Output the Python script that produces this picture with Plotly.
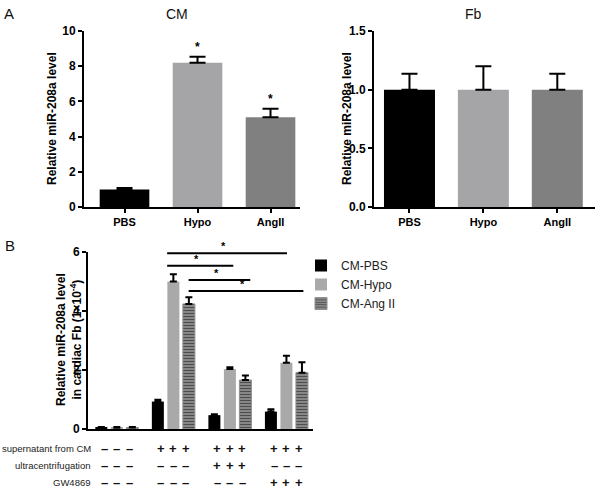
import plotly.graph_objects as go

# ---------------- data ----------------
a_categories = ["PBS", "Hypo", "AngII"]
a_colors = ["#000000", "#a5a5a7", "#808080"]
cm_values = [1.0, 8.2, 5.1]
cm_errors = [0.08, 0.33, 0.48]
fb_values = [1.0, 1.0, 1.0]
fb_errors = [0.135, 0.2, 0.135]
cm_stars = ["", "*", "*"]

b_groups = ["control", "supernatant", "supernatant+ultracentrifugation", "supernatant+GW4869"]
b_series = ["CM-PBS", "CM-Hypo", "CM-Ang II"]
cm_pbs = [0.05, 0.93, 0.47, 0.59]
cm_pbs_err = [0.015, 0.06, 0.03, 0.08]
cm_hypo = [0.04, 5.0, 2.03, 2.25]
cm_hypo_err = [0.03, 0.25, 0.06, 0.23]
cm_ang = [0.05, 4.24, 1.66, 1.91]
cm_ang_err = [0.015, 0.23, 0.15, 0.35]

# significance comparisons (x in category units, y level)
sig_x0 = [0.89, 0.89, 1.27, 1.27]
sig_x1 = [3.01, 2.06, 2.36, 3.30]
sig_y = [5.96, 5.53, 5.05, 4.68]

row_labels = ["supernatant from CM", "ultracentrifugation", "GW4869"]
supernatant = ["–", "+", "+", "+"]
ultracentrifugation = ["–", "–", "+", "–"]
gw4869 = ["–", "–", "–", "+"]

FONT = "Liberation Sans, Arial, sans-serif"
W, H = 600, 495


def px(x):
    return x / W


def py(y):
    return 1 - y / H


fig = go.Figure()

# ---------- Panel A left (CM) ----------
fig.add_trace(go.Bar(
    x=a_categories, y=cm_values, marker=dict(color=a_colors, line=dict(width=0)),
    width=0.68, showlegend=False, xaxis="x", yaxis="y",
    error_y=dict(type="data", array=cm_errors, arrayminus=[0] * 3, symmetric=False,
                 color="black", thickness=2, width=8),
))
# ---------- Panel A right (Fb) ----------
fig.add_trace(go.Bar(
    x=a_categories, y=fb_values, marker=dict(color=a_colors, line=dict(width=0)),
    width=0.69, showlegend=False, xaxis="x2", yaxis="y2",
    error_y=dict(type="data", array=fb_errors, arrayminus=[0] * 3, symmetric=False,
                 color="black", thickness=2, width=8),
))

# ---------- Panel B ----------
b_vals = [cm_pbs, cm_hypo, cm_ang]
b_errs = [cm_pbs_err, cm_hypo_err, cm_ang_err]
for i, name in enumerate(b_series):
    if i == 0:
        marker = dict(color="#000000", line=dict(width=0))
    elif i == 1:
        marker = dict(color="#a9a9a9", line=dict(width=0))
    else:
        marker = dict(color="#8e8e8e", line=dict(color="#8e8e8e", width=1),
                      pattern=dict(shape="-", fgcolor="#000000", bgcolor="#9a9a9a",
                                   size=3, solidity=0.5, fillmode="overlay"))
    fig.add_trace(go.Bar(
        x=b_groups, y=b_vals[i], name=name, marker=marker, xaxis="x3", yaxis="y3",
        error_y=dict(type="data", array=b_errs[i], arrayminus=[0] * 4, symmetric=False,
                     color="black", thickness=2, width=3.5),
    ))

BARGAP = 0.177
slot = (1 - BARGAP) / 3

axis_common = dict(showline=True, linecolor="black", linewidth=2, ticks="outside",
                   ticklen=4, tickwidth=2, tickcolor="black", showgrid=False, zeroline=False,
                   automargin=False,
                   tickfont=dict(family=FONT, size=11, color="black", weight="bold"))
axis_b_x = dict(axis_common)
axis_b_x["ticks"] = ""

ya_dom = [py(207), py(31)]
fig.update_layout(
    width=W, height=H, margin=dict(l=0, r=0, t=0, b=0, pad=0, autoexpand=False),
    paper_bgcolor="white", plot_bgcolor="white",
    barmode="group", bargap=BARGAP, bargroupgap=0.226,
    xaxis=dict(domain=[px(84), px(300)], range=[-0.555, 2.404], anchor="y", **axis_common),
    yaxis=dict(domain=ya_dom, range=[0, 10], tickvals=[0, 2, 4, 6, 8, 10], anchor="x",
               **axis_common),
    xaxis2=dict(domain=[px(374), px(595)], range=[-0.48, 2.51], anchor="y2", **axis_common),
    yaxis2=dict(domain=ya_dom, range=[0, 1.5], tickvals=[0, 0.5, 1.0, 1.5], tickformat=".1f",
                anchor="x2", **axis_common),
    xaxis3=dict(domain=[px(88), px(313)], range=[-0.51, 3.47], anchor="y3",
                showticklabels=False, **axis_b_x),
    yaxis3=dict(domain=[py(429), py(252)], range=[0, 6], tickvals=[0, 2, 4, 6], anchor="x3",
                **axis_common),
    legend=dict(x=px(301), y=py(251), xanchor="left", yanchor="top",
                font=dict(family=FONT, size=12, color="#222"), bgcolor="rgba(0,0,0,0)",
                itemclick=False),
)
fig.update_yaxes(tickfont=dict(size=12))

ann = []


def txt(text, x, y, size, bold=False, xanchor="center", textangle=0, color="#111"):
    f = dict(family=FONT, size=size, color=color)
    if bold:
        f["weight"] = "bold"
    return dict(text=text, x=px(x), y=py(y), xref="paper", yref="paper", showarrow=False,
                xanchor=xanchor, yanchor="middle", textangle=textangle, font=f)


# panel letters and titles
ann.append(txt("A", 9, 14, 15))
ann.append(txt("B", 10, 245, 15))
ann.append(txt("CM", 177, 14, 14))
ann.append(txt("Fb", 473, 14, 14))
# axis titles
for xp in (52, 347):
    ann.append(txt("Relative miR-208a level", xp, 119, 12, bold=True, textangle=-90,
                   color="black"))
ann.append(txt("Relative miR-208a level<br>in cardiac Fb (1×10<sup>-4</sup>)", 69, 340, 12,
               bold=True, textangle=-90, color="black"))
# stars in panel A
for i, s in enumerate(cm_stars):
    if s:
        ann.append(dict(text=s, x=a_categories[i], y=cm_values[i] + cm_errors[i], xref="x",
                        yref="y", showarrow=False, xanchor="center", yanchor="bottom",
                        yshift=1,
                        font=dict(family=FONT, size=12, color="black", weight="bold")))

# significance lines in panel B
shapes = []
for x0, x1, yv in zip(sig_x0, sig_x1, sig_y):
    shapes.append(dict(type="line", x0=x0, x1=x1, y0=yv, y1=yv, xref="x3", yref="y3",
                       line=dict(color="black", width=2)))
    ann.append(dict(text="*", x=(x0 + x1) / 2 - 0.06, y=yv, xref="x3", yref="y3",
                    showarrow=False, xanchor="center", yanchor="bottom", yshift=-1,
                    font=dict(family=FONT, size=11, color="black", weight="bold")))

# treatment table
rows_y = [448, 465, 482]
for lab, yy in zip(row_labels, rows_y):
    ann.append(txt(lab, 93, yy, 9.5, xanchor="right", color="#222"))
for signs, yy in zip([supernatant, ultracentrifugation, gw4869], rows_y):
    for g, sgn in enumerate(signs):
        for k in range(3):
            ann.append(dict(text=sgn, x=g + (k - 1) * slot * 0.8, y=py(yy), xref="x3",
                            yref="paper", showarrow=False, xanchor="center", yanchor="middle",
                            font=dict(family=FONT, size=13, color="#111", weight="bold")))

fig.update_layout(annotations=ann, shapes=shapes)
fig.write_html("out.html", config={"displayModeBar": False},
               post_script="document.body.style.margin='0px';")
